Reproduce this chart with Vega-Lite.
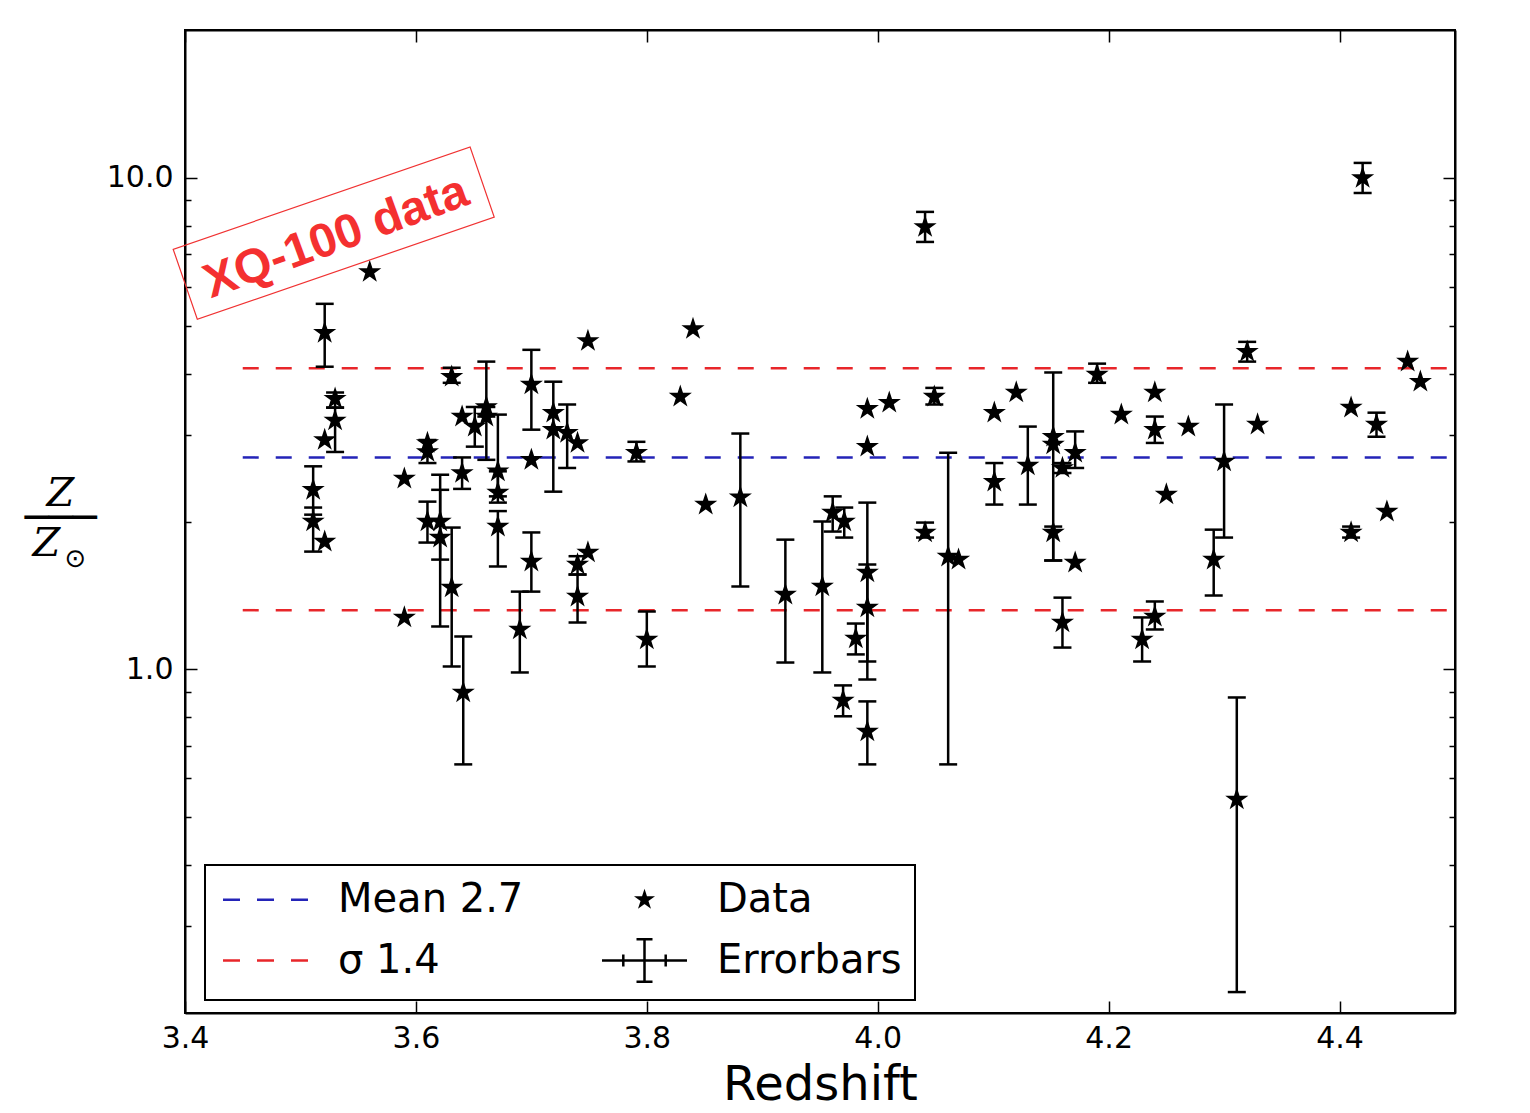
{
  "$schema": "https://vega.github.io/schema/vega-lite/v6.json",
  "width": 1270,
  "height": 983,
  "autosize": {"type": "none"},
  "padding": {"left": 185, "top": 30, "right": 75, "bottom": 100},
  "background": "white",
  "config": {
    "font": "DejaVu Sans",
    "view": {"stroke": "black", "strokeWidth": 2},
    "axis": {"grid": false, "domainColor": "black", "domainWidth": 2, "tickColor": "black", "tickWidth": 1.5, "labelColor": "black", "titleColor": "black", "labelFont": "DejaVu Sans", "titleFont": "DejaVu Sans", "titleFontWeight": "normal"},
    "legend": {"strokeWidth": 2}
  },
  "datasets": {
    "pts": [
      {"z":3.511,"Z":2.32,"lo":2.065,"hi":2.59},
      {"z":3.511,"Z":2.00,"lo":1.737,"hi":2.135},
      {"z":3.521,"Z":4.84,"lo":4.13,"hi":5.545},
      {"z":3.521,"Z":2.93},
      {"z":3.521,"Z":1.82},
      {"z":3.530,"Z":3.555,"lo":3.41,"hi":3.66},
      {"z":3.530,"Z":3.21,"lo":2.77,"hi":3.41},
      {"z":3.560,"Z":6.44},
      {"z":3.590,"Z":2.445},
      {"z":3.590,"Z":1.276},
      {"z":3.610,"Z":2.89},
      {"z":3.610,"Z":2.77,"lo":2.63,"hi":2.93},
      {"z":3.610,"Z":2.00,"lo":1.812,"hi":2.195},
      {"z":3.621,"Z":2.00,"lo":1.673,"hi":2.32},
      {"z":3.621,"Z":1.855,"lo":1.223,"hi":2.49},
      {"z":3.631,"Z":3.94,"lo":3.83,"hi":4.11},
      {"z":3.631,"Z":1.468,"lo":1.014,"hi":1.944},
      {"z":3.640,"Z":3.27},
      {"z":3.640,"Z":2.51,"lo":2.33,"hi":2.70},
      {"z":3.641,"Z":0.898,"lo":0.641,"hi":1.167},
      {"z":3.651,"Z":3.12,"lo":2.84,"hi":3.42},
      {"z":3.661,"Z":3.42,"lo":3.27,"hi":4.23},
      {"z":3.661,"Z":3.27,"lo":2.67,"hi":3.42},
      {"z":3.671,"Z":2.53,"lo":2.25,"hi":3.30},
      {"z":3.671,"Z":2.29,"lo":2.185,"hi":2.53},
      {"z":3.671,"Z":1.953,"lo":1.62,"hi":2.10},
      {"z":3.690,"Z":1.206,"lo":0.986,"hi":1.44},
      {"z":3.700,"Z":3.80,"lo":3.075,"hi":4.47},
      {"z":3.700,"Z":2.67},
      {"z":3.700,"Z":1.658,"lo":1.44,"hi":1.90},
      {"z":3.719,"Z":3.33,"lo":2.30,"hi":3.85},
      {"z":3.719,"Z":3.075},
      {"z":3.731,"Z":3.03,"lo":2.57,"hi":3.46},
      {"z":3.740,"Z":2.89},
      {"z":3.740,"Z":1.635,"lo":1.56,"hi":1.70},
      {"z":3.740,"Z":1.407,"lo":1.246,"hi":1.56},
      {"z":3.749,"Z":1.73},
      {"z":3.749,"Z":4.66},
      {"z":3.791,"Z":2.76,"lo":2.65,"hi":2.905},
      {"z":3.800,"Z":1.151,"lo":1.014,"hi":1.312},
      {"z":3.829,"Z":3.59},
      {"z":3.840,"Z":4.93},
      {"z":3.851,"Z":2.165},
      {"z":3.881,"Z":2.24,"lo":1.475,"hi":3.02},
      {"z":3.920,"Z":1.42,"lo":1.033,"hi":1.837},
      {"z":3.952,"Z":1.475,"lo":0.986,"hi":2.00},
      {"z":3.961,"Z":2.085,"lo":1.908,"hi":2.25},
      {"z":3.971,"Z":2.00,"lo":1.855,"hi":2.135},
      {"z":3.981,"Z":1.156,"lo":1.073,"hi":1.24},
      {"z":3.970,"Z":0.865,"lo":0.803,"hi":0.928},
      {"z":3.991,"Z":1.575,"lo":1.038,"hi":2.185},
      {"z":3.991,"Z":1.337,"lo":0.954,"hi":1.635},
      {"z":3.991,"Z":0.748,"lo":0.641,"hi":0.861},
      {"z":3.991,"Z":3.39},
      {"z":3.991,"Z":2.84},
      {"z":4.010,"Z":3.49},
      {"z":4.041,"Z":7.95,"lo":7.41,"hi":8.53},
      {"z":4.041,"Z":1.90,"lo":1.855,"hi":1.99},
      {"z":4.049,"Z":3.59,"lo":3.46,"hi":3.74},
      {"z":4.061,"Z":1.697,"lo":0.641,"hi":2.76},
      {"z":4.070,"Z":1.673},
      {"z":4.101,"Z":3.33},
      {"z":4.101,"Z":2.41,"lo":2.165,"hi":2.63},
      {"z":4.120,"Z":3.66},
      {"z":4.130,"Z":2.60,"lo":2.165,"hi":3.12},
      {"z":4.152,"Z":2.975,"lo":1.666,"hi":4.02},
      {"z":4.152,"Z":2.87},
      {"z":4.152,"Z":1.90,"lo":1.666,"hi":1.953},
      {"z":4.160,"Z":2.57,"lo":2.51,"hi":2.63},
      {"z":4.160,"Z":1.246,"lo":1.108,"hi":1.40},
      {"z":4.171,"Z":2.76,"lo":2.57,"hi":3.05},
      {"z":4.171,"Z":1.65},
      {"z":4.190,"Z":3.98,"lo":3.83,"hi":4.19},
      {"z":4.211,"Z":3.30},
      {"z":4.229,"Z":1.151,"lo":1.038,"hi":1.276},
      {"z":4.240,"Z":3.66},
      {"z":4.240,"Z":3.075,"lo":2.89,"hi":3.27},
      {"z":4.240,"Z":1.281,"lo":1.206,"hi":1.375},
      {"z":4.250,"Z":2.27},
      {"z":4.269,"Z":3.12},
      {"z":4.291,"Z":1.673,"lo":1.414,"hi":1.925},
      {"z":4.300,"Z":2.65,"lo":1.855,"hi":3.46},
      {"z":4.311,"Z":0.544,"lo":0.2206,"hi":0.877},
      {"z":4.320,"Z":4.43,"lo":4.23,"hi":4.64},
      {"z":4.329,"Z":3.15},
      {"z":4.410,"Z":3.41},
      {"z":4.410,"Z":1.90,"lo":1.855,"hi":1.953},
      {"z":4.420,"Z":10.0,"lo":9.32,"hi":10.73},
      {"z":4.432,"Z":3.15,"lo":2.975,"hi":3.33},
      {"z":4.441,"Z":2.095},
      {"z":4.459,"Z":4.23},
      {"z":4.470,"Z":3.85}
    ],
    "lines": [
      {"series":"Mean 2.7","v":2.7,"z0":3.45,"z1":4.5},
      {"series":"σ 1.4","v":4.1,"z0":3.45,"z1":4.5},
      {"series":"σ 1.4","v":1.32,"z0":3.45,"z1":4.5}
    ],
    "note": [
      {"z":3.5288,"Zb":7.72,"zt":3.531,"Zt":7.55,"t":"XQ-100 data"}
    ],
    "legendrows": [
      {"series":"Mean 2.7"},{"series":"Data"},{"series":"σ 1.4"},{"series":"Errorbars"}
    ]
  },
  "resolve": {"axis": {"x": "independent", "y": "independent"}},
  "layer": [
    {
      "data": {"name": "lines"},
      "mark": {"type": "rule", "strokeWidth": 2.5, "strokeDash": [16, 17]},
      "encoding": {
        "x": {"field": "z0", "type": "quantitative",
          "scale": {"domain": [3.4, 4.5], "nice": false, "zero": false},
          "axis": {"orient": "bottom", "values": [3.4, 3.6, 3.8, 4.0, 4.2, 4.4], "format": ".1f", "title": "Redshift", "labelFlush": false,
            "labelFontSize": 30, "titleFontSize": 48, "tickSize": -12, "labelPadding": 22, "titlePadding": 8}},
        "x2": {"field": "z1"},
        "y": {"field": "v", "type": "quantitative",
          "scale": {"type": "log", "domain": [0.2, 20], "nice": false},
          "axis": {"orient": "left", "values": [0.3,0.4,0.5,0.6,0.7,0.8,0.9,1,2,3,4,5,6,7,8,9,10],
            "labelExpr": "datum.value == 1 ? '1.0' : (datum.value == 10 ? '10.0' : '')",
            "labelOverlap": false, "labelFlush": false, "labelFontSize": 30, "labelPadding": 24,
            "tickSize": {"condition": {"test": "datum.value == 1 || datum.value == 10", "value": -12}, "value": -6},
            "title": ["Z", "───"], "titleFont": "DejaVu Serif", "titleFontStyle": "italic", "titleFontSize": 40,
            "titleAngle": 0, "titleAlign": "center", "titleBaseline": "alphabetic", "titleLineHeight": 25,
            "titleX": -125, "titleY": 475}},
        "stroke": {"condition": {"test": "datum.series == 'Mean 2.7'", "value": "#2424b8"}, "value": "#e8262a"}
      }
    },
    {
      "data": {"name": "pts"},
      "transform": [{"filter": "isValid(datum.lo)"}],
      "mark": {"type": "rule", "strokeWidth": 2.5, "color": "black"},
      "encoding": {
        "x": {"field": "z", "type": "quantitative",
          "axis": {"orient": "top", "values": [3.4, 3.6, 3.8, 4.0, 4.2, 4.4], "labels": false, "tickSize": -12,
            "title": "⊙", "titleFont": "DejaVu Sans", "titleFontSize": 26, "titleAngle": 0, "titleAlign": "center", "titleBaseline": "middle",
            "titleX": -110, "titleY": 528}},
        "y": {"field": "lo", "type": "quantitative",
          "axis": {"orient": "right", "values": [0.3,0.4,0.5,0.6,0.7,0.8,0.9,1,2,3,4,5,6,7,8,9,10], "labels": false,
            "title": "Z", "titleFont": "DejaVu Serif", "titleFontStyle": "italic", "titleFontSize": 40, "titleAngle": 0, "titleAlign": "center", "titleBaseline": "alphabetic",
            "titleX": -1409, "titleY": 525,
            "tickSize": {"condition": {"test": "datum.value == 1 || datum.value == 10", "value": -12}, "value": -6}}},
        "y2": {"field": "hi"}
      }
    },
    {
      "data": {"name": "pts"},
      "transform": [{"fold": ["lo", "hi"], "as": ["k", "val"]}, {"filter": "isValid(datum.val)"}],
      "mark": {"type": "point", "shape": "M-1,0L1,0", "size": 324, "filled": false, "stroke": "black", "strokeWidth": 2.5, "opacity": 1},
      "encoding": {
        "x": {"field": "z", "type": "quantitative", "axis": null},
        "y": {"field": "val", "type": "quantitative", "axis": null}
      }
    },
    {
      "data": {"name": "pts"},
      "mark": {"type": "point", "shape": "M0,-1L0.2245,-0.309L0.951,-0.309L0.3633,0.118L0.588,0.809L0,0.382L-0.588,0.809L-0.3633,0.118L-0.951,-0.309L-0.2245,-0.309Z",
        "size": 380, "filled": true, "fill": "black", "stroke": "black", "strokeWidth": 1.5, "opacity": 1},
      "encoding": {
        "x": {"field": "z", "type": "quantitative", "axis": null},
        "y": {"field": "Z", "type": "quantitative", "axis": null}
      }
    },
    {
      "data": {"name": "note"},
      "mark": {"type": "point", "shape": "M-1,-0.236L1,-0.236L1,0.236L-1,0.236Z", "size": 98596, "angle": -19,
        "filled": false, "stroke": "#f03232", "strokeWidth": 1.2, "opacity": 1},
      "encoding": {
        "x": {"field": "z", "type": "quantitative", "axis": null},
        "y": {"field": "Zb", "type": "quantitative", "axis": null}
      }
    },
    {
      "data": {"name": "note"},
      "mark": {"type": "text", "angle": -20, "fontSize": 48, "fontWeight": "bold", "font": "Liberation Sans", "color": "#f43030", "align": "center", "baseline": "middle"},
      "encoding": {
        "x": {"field": "zt", "type": "quantitative", "axis": null},
        "y": {"field": "Zt", "type": "quantitative", "axis": null},
        "text": {"field": "t"}
      }
    },
    {
      "data": {"name": "legendrows"},
      "transform": [{"filter": "false"}],
      "mark": {"type": "point", "strokeWidth": 2.5},
      "encoding": {
        "shape": {"field": "series", "type": "nominal",
          "scale": {"domain": ["Mean 2.7", "σ 1.4", "Data", "Errorbars"],
            "range": ["M-2.125,0L-1.275,0M-0.425,0L0.425,0M1.275,0L2.125,0",
                      "M-2.125,0L-1.275,0M-0.425,0L0.425,0M1.275,0L2.125,0",
                      "M0,-0.35L0.079,-0.108L0.333,-0.108L0.127,0.041L0.206,0.283L0,0.134L-0.206,0.283L-0.127,0.041L-0.333,-0.108L-0.079,-0.108Z",
                      "M-2.125,0L2.125,0M0,-1.06L0,1.06M-0.4,-1.06L0.4,-1.06M-0.4,1.06L0.4,1.06M-1.06,-0.3L-1.06,0.3M1.06,-0.3L1.06,0.3"]},
          "legend": {"title": null, "orient": "none", "legendX": 20, "legendY": 835, "columns": 2, "symbolSize": 1600, "symbolStrokeWidth": 2.5,
            "symbolOffset": 26, "labelFontSize": 40, "labelFont": "DejaVu Sans", "labelColor": "black", "labelOffset": 51, "labelLimit": 500, "columnPadding": 73,
            "rowPadding": 14, "padding": 13, "strokeColor": "black", "fillColor": "white", "symbolOpacity": 1}},
        "fill": {"field": "series", "type": "nominal",
          "scale": {"domain": ["Mean 2.7", "σ 1.4", "Data", "Errorbars"], "range": ["transparent", "transparent", "black", "transparent"]},
          "legend": {"title": null, "orient": "none", "legendX": 20, "legendY": 835, "columns": 2, "symbolSize": 1600, "symbolStrokeWidth": 2.5,
            "symbolOffset": 26, "labelFontSize": 40, "labelFont": "DejaVu Sans", "labelColor": "black", "labelOffset": 51, "labelLimit": 500, "columnPadding": 73,
            "rowPadding": 14, "padding": 13, "strokeColor": "black", "fillColor": "white", "symbolOpacity": 1}},
        "stroke": {"field": "series", "type": "nominal",
          "scale": {"domain": ["Mean 2.7", "σ 1.4", "Data", "Errorbars"], "range": ["#2424b8", "#e8262a", "black", "black"]},
          "legend": {"title": null, "orient": "none", "legendX": 20, "legendY": 835, "columns": 2, "symbolSize": 1600, "symbolStrokeWidth": 2.5,
            "symbolOffset": 26, "labelFontSize": 40, "labelFont": "DejaVu Sans", "labelColor": "black", "labelOffset": 51, "labelLimit": 500, "columnPadding": 73,
            "rowPadding": 14, "padding": 13, "strokeColor": "black", "fillColor": "white", "symbolOpacity": 1}}
      }
    }
  ]
}
